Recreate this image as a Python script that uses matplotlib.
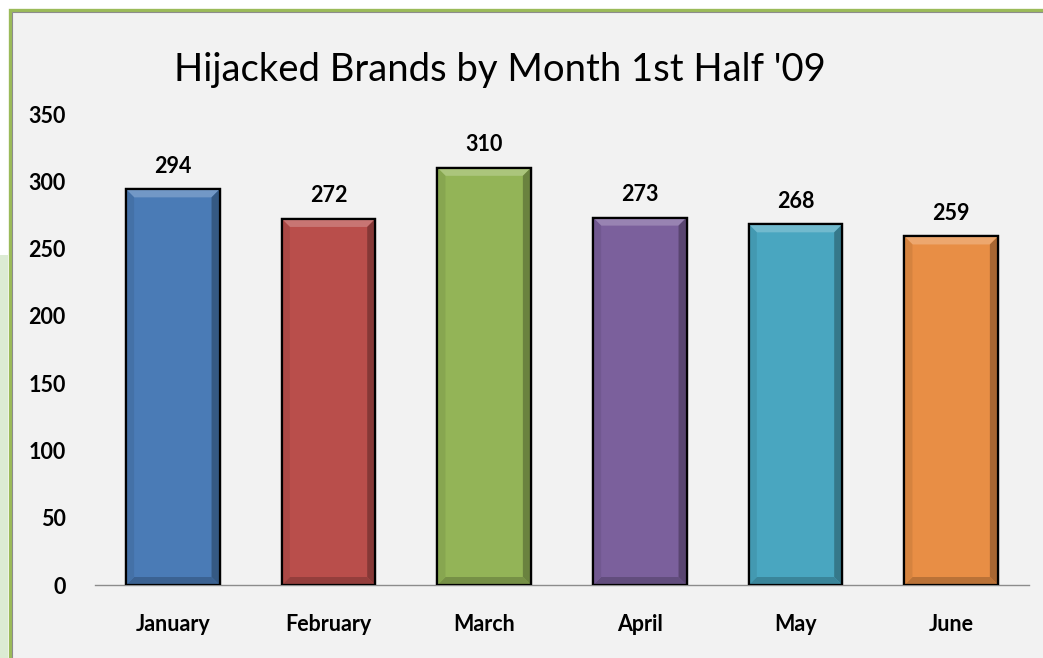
import numpy as np
import matplotlib
matplotlib.use("Agg")
import matplotlib.pyplot as plt
from matplotlib.patches import Polygon, Rectangle
from matplotlib.colors import to_rgb

# ==========================================
# DATA
# ==========================================

months = ["January", "February", "March", "April", "May", "June"]
counts = [294, 272, 310, 273, 268, 259]
bar_colors = ["#4a7bb6", "#b94e4b", "#93b457", "#7b609c", "#49a6c0", "#e88e45"]
y_ticks = [0, 50, 100, 150, 200, 250, 300, 350]
title = "Hijacked Brands by Month 1st Half '09"

# ==========================================
# FIGURE
# ==========================================

W, H = 1043, 658
fig = plt.figure(figsize=(W / 100, H / 100), dpi=100)
fig.patch.set_facecolor("white")

# chart frame (green outer line, gray inner line)
fig.patches.append(Rectangle((0, 0), 8 / W, (H - 255) / H, transform=fig.transFigure,
                             facecolor="#dcebd3", edgecolor="none", zorder=-3))
fig.patches.append(Rectangle((10 / W, -0.1), 1.2, (H - 10) / H + 0.1, transform=fig.transFigure,
                             facecolor="#f2f2f2", edgecolor="#9bbb59", linewidth=2.4, zorder=-2))
fig.patches.append(Rectangle((12 / W, -0.1), 1.2, (H - 12) / H + 0.1, transform=fig.transFigure,
                             facecolor="none", edgecolor="#8c8c8c", linewidth=0.8, zorder=-1))

ax = fig.add_axes([95 / W, (H - 585) / H, 934 / W, 471 / H])
ax.set_facecolor("none")

x = np.arange(len(months))
width = 0.6
ax.set_xlim(-0.5, len(months) - 0.5)
ax.set_ylim(0, 350)

bars = ax.bar(x, counts, width=width, color=bar_colors, edgecolor="black",
              linewidth=1.6, zorder=3)

# bevel effect on each bar
fig.canvas.draw()
px_x = (ax.transData.transform((1, 0))[0] - ax.transData.transform((0, 0))[0])
px_y = (ax.transData.transform((0, 1))[1] - ax.transData.transform((0, 0))[1])
bx = 8 / px_x
by = 8 / px_y


def shade(c, f):
    r, g, b = to_rgb(c)
    if f > 1:
        return (r + (1 - r) * (f - 1), g + (1 - g) * (f - 1), b + (1 - b) * (f - 1))
    return (r * f, g * f, b * f)


for bar, c in zip(bars, bar_colors):
    x0 = bar.get_x()
    x1 = x0 + bar.get_width()
    y1 = bar.get_height()
    # top
    ax.add_patch(Polygon([(x0, y1), (x1, y1), (x1 - bx, y1 - by), (x0 + bx, y1 - by)],
                         closed=True, facecolor=shade(c, 1.22), edgecolor="none", zorder=4))
    # right
    ax.add_patch(Polygon([(x1, y1), (x1, 0), (x1 - bx, by), (x1 - bx, y1 - by)],
                         closed=True, facecolor=shade(c, 0.72), edgecolor="none", zorder=4))
    # bottom
    ax.add_patch(Polygon([(x0, 0), (x1, 0), (x1 - bx, by), (x0 + bx, by)],
                         closed=True, facecolor=shade(c, 0.8), edgecolor="none", zorder=4))
    # left
    ax.add_patch(Polygon([(x0, 0), (x0, y1), (x0 + bx, y1 - by), (x0 + bx, by)],
                         closed=True, facecolor=shade(c, 0.92), edgecolor="none", zorder=4))
    # redraw outline on top
    ax.add_patch(Rectangle((x0, 0), x1 - x0, y1, facecolor="none", edgecolor="black",
                           linewidth=1.6, zorder=5))

for xi, v in zip(x, counts):
    ax.annotate(str(v), (xi, v), xytext=(0, 9), textcoords="offset points",
                ha="center", va="bottom", fontsize=15.5, fontweight="bold",
                family="Lato", color="black", zorder=6)

# ==========================================
# AXES STYLE
# ==========================================

for side in ["top", "right", "left"]:
    ax.spines[side].set_visible(False)
ax.spines["bottom"].set_color("#8c8c8c")
ax.spines["bottom"].set_linewidth(1.0)

ax.set_yticks(y_ticks)
ax.set_yticklabels([str(t) for t in y_ticks], fontsize=15.5, fontweight="bold", family="Lato")
ax.set_xticks(x)
ax.set_xticklabels(months, fontsize=15.5, fontweight="bold", family="Lato")
ax.tick_params(axis="y", length=0, pad=21)
ax.tick_params(axis="x", length=0, pad=21)

fig.text(500 / W, 1 - 70 / H, title, ha="center", va="center",
         fontsize=27.5, family="Lato", color="black")

fig.savefig("out.png", dpi=100, facecolor=fig.get_facecolor())
